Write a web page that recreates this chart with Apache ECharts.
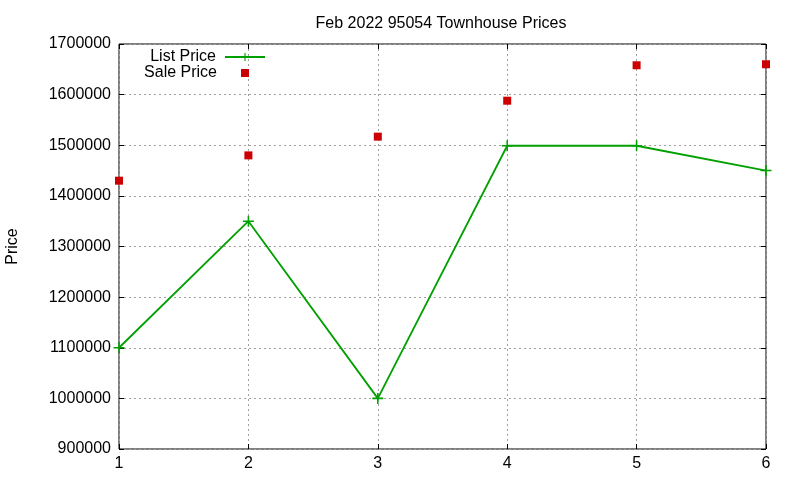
<!DOCTYPE html>
<html>
<head>
<meta charset="utf-8">
<script src="https://cdn.jsdelivr.net/npm/echarts@6/dist/echarts.min.js"></script>
<style>
  html, body { margin: 0; padding: 0; background: #fff; }
  #chart { width: 800px; height: 480px; }
</style>
</head>
<body>
<div id="chart"></div>
<script>
// data
var houses = [1, 2, 3, 4, 5, 6];
var listPrice = [1100000, 1350000, 1000000, 1499000, 1499000, 1450000];
var salePrice = [1430000, 1480000, 1517000, 1588000, 1658000, 1660000];
var yTicks = [900000, 1700000, 100000]; // min, max, step

var font = 'Liberation Sans, Arial, sans-serif';
var plus = 'path://M4.3,0h1.4v10h-1.4zM0,4.3h10v1.4h-10z';

function pairs(xs, ys) {
  var out = [];
  for (var i = 0; i < xs.length; i++) out.push([xs[i], ys[i]]);
  return out;
}

var chart = echarts.init(document.getElementById('chart'), null, { renderer: 'canvas' });

// both axes are mirrored, like gnuplot draws them
var gridLine = { show: true, lineStyle: { color: '#a0a0a0', type: [2, 3], width: 1 } };
var tick = { show: true, inside: true, length: 5, lineStyle: { color: '#000' } };

var option = {
  animation: false,
  backgroundColor: '#fff',
  textStyle: { fontFamily: font },
  title: {
    text: 'Feb 2022 95054 Townhouse Prices',
    left: 436, top: 11, textAlign: 'center',
    textStyle: { fontFamily: font, fontSize: 16, fontWeight: 'normal', color: '#000' }
  },
  grid: {
    left: 119, right: 34, top: 44, bottom: 31,
    outerBoundsMode: 'none', containLabel: false,
    show: true, borderColor: '#000', borderWidth: 1
  },
  legend: [
    {
      data: ['List Price'], orient: 'vertical', right: 529, top: 44,
      align: 'right', itemWidth: 40, itemHeight: 10,
      textStyle: { fontFamily: font, fontSize: 16, color: '#000', padding: [0, 4, 0, 0] }
    },
    {
      data: [{ name: 'Sale Price', icon: 'rect' }], orient: 'vertical', right: 546, top: 60,
      align: 'right', itemWidth: 8, itemHeight: 8,
      textStyle: { fontFamily: font, fontSize: 16, color: '#000', padding: [0, 19, 0, 0] }
    }
  ],
  xAxis: [
    {
      type: 'value', min: 1, max: 6, interval: 1,
      axisLine: { show: false }, axisTick: tick, splitLine: gridLine,
      axisLabel: { color: '#000', fontSize: 16, fontFamily: font, margin: 7 }
    },
    {
      type: 'value', position: 'top', min: 1, max: 6, interval: 1,
      axisLine: { show: false }, axisTick: tick, splitLine: { show: false },
      axisLabel: { show: false }
    }
  ],
  yAxis: [
    {
      type: 'value', min: yTicks[0], max: yTicks[1], interval: yTicks[2],
      name: 'Price', nameLocation: 'middle', nameGap: 98, nameRotate: 90,
      nameTextStyle: { color: '#000', fontSize: 16, fontFamily: font },
      axisLine: { show: false }, axisTick: tick, splitLine: gridLine,
      axisLabel: {
        color: '#000', fontSize: 16, fontFamily: font, margin: 8,
        formatter: function (v) { return String(v); }
      }
    },
    {
      type: 'value', position: 'right', min: yTicks[0], max: yTicks[1], interval: yTicks[2],
      axisLine: { show: false }, axisTick: tick, splitLine: { show: false },
      axisLabel: { show: false }
    }
  ],
  series: [
    {
      name: 'List Price', type: 'line',
      data: pairs(houses, listPrice),
      symbol: plus, symbolSize: 11, showAllSymbol: true,
      itemStyle: { color: '#00a000', opacity: 1 },
      lineStyle: { color: '#00a000', width: 1.8 },
      z: 3
    },
    {
      name: 'Sale Price', type: 'scatter',
      data: pairs(houses, salePrice),
      symbol: 'rect', symbolSize: 8,
      itemStyle: { color: '#cc0000', opacity: 1 },
      z: 4
    }
  ]
};

chart.setOption(option);
</script>
</body>
</html>
